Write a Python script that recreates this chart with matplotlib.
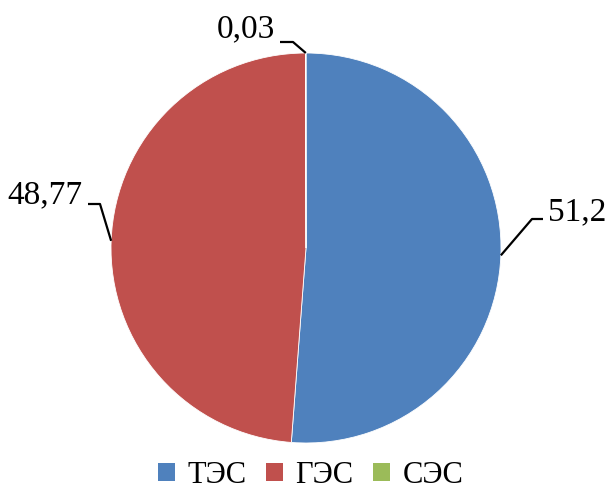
import numpy as np
import matplotlib
matplotlib.use("Agg")
import matplotlib.pyplot as plt
from matplotlib.patches import Patch

plt.rcParams['font.family'] = ['Liberation Serif', 'DejaVu Serif']

labels = ['ТЭС', 'ГЭС', 'СЭС']
values = [51.2, 48.77, 0.03]
value_text = ['51,2', '48,77', '0,03']
colors = ['#4F81BD', '#C0504D', '#9BBB59']

W, H = 606, 490
CX, CY, R = 306, 248, 195


def px(x, y):
    # pixel position -> pie data coordinates
    return (x - CX) / R, (CY - y) / R


def main():
    fig = plt.figure(figsize=(W / 100, H / 100), dpi=100)
    ax = fig.add_axes([(CX - R) / W, (H - CY - R) / H, 2 * R / W, 2 * R / H])
    wedges, _ = ax.pie(values, colors=colors, startangle=90, counterclock=False,
                       radius=1, wedgeprops=dict(linewidth=0.6, edgecolor='white'))
    ax.set_xlim(-1, 1)
    ax.set_ylim(-1, 1)
    ax.set_aspect('equal')
    ax.axis('off')

    # elbow and label positions for each leader line (pixels)
    elbows = [((532, 219), (543, 219), (548, 220), 'left'),
              ((100, 204), (88, 204), (83, 203), 'right'),
              ((293, 42), (280, 42), (275, 37), 'right')]
    for w, txt, (e1, e2, tp, ha) in zip(wedges, value_text, elbows):
        mid = np.deg2rad((w.theta1 + w.theta2) / 2)
        ax0, ay0 = np.cos(mid), np.sin(mid)
        x1, y1 = px(*e1)
        x2, y2 = px(*e2)
        ax.plot([ax0, x1, x2], [ay0, y1, y2], color='black', lw=1.6, clip_on=False,
                solid_capstyle='butt')
        tx, ty = px(*tp)
        ax.text(tx, ty, txt, fontsize=24, ha=ha, va='baseline', clip_on=False)

    handles = [Patch(facecolor=c, edgecolor='none', label=l) for c, l in zip(colors, labels)]
    fig.legend(handles=handles, loc='center', bbox_to_anchor=(0.513, 0.03), ncol=3,
               frameon=False, fontsize=22, handlelength=0.55, handleheight=0.55,
               handletextpad=0.4, columnspacing=0.65, borderaxespad=0)

    fig.savefig('out.png', dpi=100, facecolor='white')


if __name__ == "__main__":
    main()
